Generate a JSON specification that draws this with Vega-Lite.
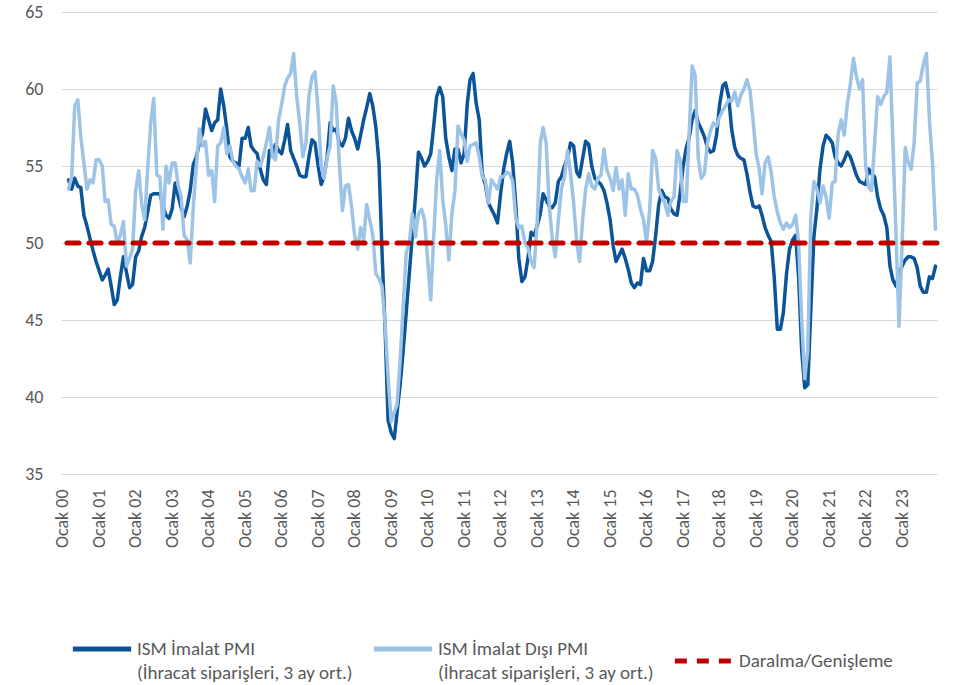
{
  "$schema": "https://vega.github.io/schema/vega-lite/v6.json",
  "width": 876,
  "height": 462,
  "autosize": {"type": "none"},
  "padding": {"left": 61, "top": 12, "right": 32, "bottom": 211},
  "background": "white",
  "config": {"view": {"stroke": null}, "font": "Carlito, Lato, sans-serif"},
  "layer": [
    {
      "data": {"values": [
        {"d":"2000-03-01","A":54.1,"B":53.5},{"d":"2000-04-01","A":53.5,"B":54.3},{"d":"2000-05-01","A":54.2,"B":58.9},{"d":"2000-06-01","A":53.7,"B":59.3},{"d":"2000-07-01","A":53.6,"B":56.9},{"d":"2000-08-01","A":51.8,"B":55.2},{"d":"2000-09-01","A":51.1,"B":53.5},{"d":"2000-10-01","A":50.3,"B":54.1},{"d":"2000-11-01","A":49.5,"B":53.9},{"d":"2000-12-01","A":48.8,"B":55.4},
        {"d":"2001-01-01","A":48.2,"B":55.4},{"d":"2001-02-01","A":47.6,"B":55.0},{"d":"2001-03-01","A":47.9,"B":52.7},{"d":"2001-04-01","A":48.3,"B":52.8},{"d":"2001-05-01","A":47.2,"B":51.2},{"d":"2001-06-01","A":46.0,"B":51.1},{"d":"2001-07-01","A":46.3,"B":50.0},{"d":"2001-08-01","A":47.8,"B":50.5},{"d":"2001-09-01","A":49.1,"B":51.4},{"d":"2001-10-01","A":48.1,"B":48.5},{"d":"2001-11-01","A":47.1,"B":49.0},{"d":"2001-12-01","A":47.3,"B":49.6},
        {"d":"2002-01-01","A":49.1,"B":53.4},{"d":"2002-02-01","A":49.5,"B":54.7},{"d":"2002-03-01","A":50.4,"B":52.6},{"d":"2002-04-01","A":51.0,"B":51.5},{"d":"2002-05-01","A":52.0,"B":54.8},{"d":"2002-06-01","A":53.1,"B":57.8},{"d":"2002-07-01","A":53.2,"B":59.4},{"d":"2002-08-01","A":53.2,"B":54.4},{"d":"2002-09-01","A":53.2,"B":54.3},{"d":"2002-10-01","A":52.4,"B":50.9},{"d":"2002-11-01","A":51.8,"B":55.0},{"d":"2002-12-01","A":51.6,"B":53.9},
        {"d":"2003-01-01","A":52.2,"B":55.2},{"d":"2003-02-01","A":53.9,"B":55.2},{"d":"2003-03-01","A":53.1,"B":53.8},{"d":"2003-04-01","A":52.3,"B":53.0},{"d":"2003-05-01","A":51.7,"B":50.5},{"d":"2003-06-01","A":52.4,"B":50.2},{"d":"2003-07-01","A":53.4,"B":48.7},{"d":"2003-08-01","A":55.1,"B":52.4},{"d":"2003-09-01","A":55.6,"B":55.0},{"d":"2003-10-01","A":56.5,"B":57.4},{"d":"2003-11-01","A":57.1,"B":56.3},{"d":"2003-12-01","A":58.7,"B":56.6},
        {"d":"2004-01-01","A":58.0,"B":54.4},{"d":"2004-02-01","A":57.3,"B":54.7},{"d":"2004-03-01","A":57.8,"B":52.7},{"d":"2004-04-01","A":58.0,"B":56.3},{"d":"2004-05-01","A":60.0,"B":56.5},{"d":"2004-06-01","A":58.9,"B":57.5},{"d":"2004-07-01","A":57.4,"B":55.8},{"d":"2004-08-01","A":55.6,"B":56.3},{"d":"2004-09-01","A":55.3,"B":55.3},{"d":"2004-10-01","A":55.2,"B":55.0},{"d":"2004-11-01","A":55.0,"B":54.8},{"d":"2004-12-01","A":56.8,"B":54.3},
        {"d":"2005-01-01","A":56.8,"B":53.9},{"d":"2005-02-01","A":57.5,"B":54.8},{"d":"2005-03-01","A":56.3,"B":53.4},{"d":"2005-04-01","A":56.0,"B":53.4},{"d":"2005-05-01","A":55.8,"B":55.3},{"d":"2005-06-01","A":54.8,"B":55.0},{"d":"2005-07-01","A":54.1,"B":55.6},{"d":"2005-08-01","A":53.8,"B":56.5},{"d":"2005-09-01","A":56.0,"B":57.5},{"d":"2005-10-01","A":55.8,"B":55.6},{"d":"2005-11-01","A":56.4,"B":55.4},{"d":"2005-12-01","A":56.0,"B":58.0},
        {"d":"2006-01-01","A":55.8,"B":59.0},{"d":"2006-02-01","A":56.7,"B":60.2},{"d":"2006-03-01","A":57.7,"B":60.7},{"d":"2006-04-01","A":56.0,"B":61.0},{"d":"2006-05-01","A":55.5,"B":62.3},{"d":"2006-06-01","A":55.0,"B":59.5},{"d":"2006-07-01","A":54.4,"B":57.8},{"d":"2006-08-01","A":54.3,"B":55.6},{"d":"2006-09-01","A":54.3,"B":56.5},{"d":"2006-10-01","A":55.6,"B":59.5},{"d":"2006-11-01","A":56.7,"B":60.8},{"d":"2006-12-01","A":56.5,"B":61.1},
        {"d":"2007-01-01","A":55.0,"B":58.6},{"d":"2007-02-01","A":53.8,"B":55.0},{"d":"2007-03-01","A":54.3,"B":54.2},{"d":"2007-04-01","A":55.6,"B":55.5},{"d":"2007-05-01","A":57.8,"B":56.3},{"d":"2007-06-01","A":57.3,"B":60.2},{"d":"2007-07-01","A":57.4,"B":59.1},{"d":"2007-08-01","A":56.5,"B":55.2},{"d":"2007-09-01","A":56.3,"B":52.1},{"d":"2007-10-01","A":56.8,"B":53.7},{"d":"2007-11-01","A":58.1,"B":53.8},{"d":"2007-12-01","A":57.3,"B":52.4},
        {"d":"2008-01-01","A":56.8,"B":50.5},{"d":"2008-02-01","A":56.1,"B":49.6},{"d":"2008-03-01","A":57.0,"B":51.0},{"d":"2008-04-01","A":58.0,"B":50.2},{"d":"2008-05-01","A":58.8,"B":52.5},{"d":"2008-06-01","A":59.7,"B":51.5},{"d":"2008-07-01","A":58.9,"B":50.5},{"d":"2008-08-01","A":57.5,"B":48.0},{"d":"2008-09-01","A":55.2,"B":47.7},{"d":"2008-10-01","A":49.5,"B":47.2},{"d":"2008-11-01","A":44.5,"B":44.8},{"d":"2008-12-01","A":38.5,"B":41.3},
        {"d":"2009-01-01","A":37.7,"B":38.4},{"d":"2009-02-01","A":37.3,"B":39.0},{"d":"2009-03-01","A":39.0,"B":39.5},{"d":"2009-04-01","A":40.8,"B":42.4},{"d":"2009-05-01","A":43.0,"B":45.9},{"d":"2009-06-01","A":45.5,"B":49.4},{"d":"2009-07-01","A":48.0,"B":50.0},{"d":"2009-08-01","A":50.5,"B":51.9},{"d":"2009-09-01","A":53.0,"B":50.4},{"d":"2009-10-01","A":55.9,"B":51.9},{"d":"2009-11-01","A":55.5,"B":52.2},{"d":"2009-12-01","A":55.0,"B":51.5},
        {"d":"2010-01-01","A":55.3,"B":48.9},{"d":"2010-02-01","A":55.8,"B":46.3},{"d":"2010-03-01","A":57.5,"B":50.2},{"d":"2010-04-01","A":59.5,"B":54.1},{"d":"2010-05-01","A":60.1,"B":56.0},{"d":"2010-06-01","A":59.5,"B":52.8},{"d":"2010-07-01","A":56.8,"B":51.2},{"d":"2010-08-01","A":55.6,"B":48.9},{"d":"2010-09-01","A":54.7,"B":51.9},{"d":"2010-10-01","A":56.1,"B":53.4},{"d":"2010-11-01","A":56.1,"B":57.6},{"d":"2010-12-01","A":55.2,"B":57.1},
        {"d":"2011-01-01","A":55.8,"B":56.7},{"d":"2011-02-01","A":59.0,"B":55.3},{"d":"2011-03-01","A":60.6,"B":56.3},{"d":"2011-04-01","A":61.0,"B":56.4},{"d":"2011-05-01","A":59.1,"B":56.5},{"d":"2011-06-01","A":58.0,"B":55.6},{"d":"2011-07-01","A":54.5,"B":54.3},{"d":"2011-08-01","A":53.8,"B":54.1},{"d":"2011-09-01","A":52.6,"B":52.6},{"d":"2011-10-01","A":52.2,"B":54.1},{"d":"2011-11-01","A":51.8,"B":53.8},{"d":"2011-12-01","A":51.3,"B":53.5},
        {"d":"2012-01-01","A":53.2,"B":54.3},{"d":"2012-02-01","A":54.8,"B":54.3},{"d":"2012-03-01","A":55.8,"B":54.6},{"d":"2012-04-01","A":56.6,"B":54.5},{"d":"2012-05-01","A":55.2,"B":54.0},{"d":"2012-06-01","A":52.5,"B":51.6},{"d":"2012-07-01","A":49.0,"B":51.0},{"d":"2012-08-01","A":47.5,"B":51.1},{"d":"2012-09-01","A":47.8,"B":50.0},{"d":"2012-10-01","A":49.0,"B":49.7},{"d":"2012-11-01","A":50.7,"B":48.8},{"d":"2012-12-01","A":50.5,"B":48.4},
        {"d":"2013-01-01","A":51.1,"B":51.3},{"d":"2013-02-01","A":51.9,"B":56.5},{"d":"2013-03-01","A":53.2,"B":57.5},{"d":"2013-04-01","A":52.8,"B":56.5},{"d":"2013-05-01","A":52.4,"B":52.5},{"d":"2013-06-01","A":52.3,"B":50.3},{"d":"2013-07-01","A":52.6,"B":49.1},{"d":"2013-08-01","A":54.0,"B":51.5},{"d":"2013-09-01","A":54.3,"B":53.5},{"d":"2013-10-01","A":55.0,"B":54.3},{"d":"2013-11-01","A":55.5,"B":56.0},{"d":"2013-12-01","A":56.5,"B":54.5},
        {"d":"2014-01-01","A":56.3,"B":52.6},{"d":"2014-02-01","A":54.6,"B":50.0},{"d":"2014-03-01","A":54.3,"B":48.8},{"d":"2014-04-01","A":55.5,"B":51.5},{"d":"2014-05-01","A":56.6,"B":53.5},{"d":"2014-06-01","A":56.4,"B":54.5},{"d":"2014-07-01","A":55.0,"B":53.7},{"d":"2014-08-01","A":54.2,"B":53.5},{"d":"2014-09-01","A":54.0,"B":54.2},{"d":"2014-10-01","A":53.8,"B":54.4},{"d":"2014-11-01","A":53.4,"B":56.1},{"d":"2014-12-01","A":52.6,"B":54.7},
        {"d":"2015-01-01","A":51.5,"B":54.2},{"d":"2015-02-01","A":49.8,"B":53.4},{"d":"2015-03-01","A":48.8,"B":54.9},{"d":"2015-04-01","A":49.2,"B":53.5},{"d":"2015-05-01","A":49.6,"B":54.1},{"d":"2015-06-01","A":49.0,"B":51.8},{"d":"2015-07-01","A":48.3,"B":54.5},{"d":"2015-08-01","A":47.4,"B":53.5},{"d":"2015-09-01","A":47.1,"B":53.5},{"d":"2015-10-01","A":47.4,"B":53.1},{"d":"2015-11-01","A":47.3,"B":52.2},{"d":"2015-12-01","A":49.0,"B":51.5},
        {"d":"2016-01-01","A":48.2,"B":50.0},{"d":"2016-02-01","A":48.2,"B":52.2},{"d":"2016-03-01","A":48.8,"B":56.0},{"d":"2016-04-01","A":50.5,"B":55.5},{"d":"2016-05-01","A":52.5,"B":53.5},{"d":"2016-06-01","A":53.4,"B":53.0},{"d":"2016-07-01","A":53.0,"B":52.6},{"d":"2016-08-01","A":52.9,"B":51.8},{"d":"2016-09-01","A":52.2,"B":52.7},{"d":"2016-10-01","A":51.9,"B":53.0},{"d":"2016-11-01","A":51.8,"B":56.0},{"d":"2016-12-01","A":53.2,"B":55.4},
        {"d":"2017-01-01","A":55.0,"B":52.7},{"d":"2017-02-01","A":56.2,"B":52.7},{"d":"2017-03-01","A":56.8,"B":57.0},{"d":"2017-04-01","A":58.0,"B":61.5},{"d":"2017-05-01","A":58.6,"B":60.9},{"d":"2017-06-01","A":57.8,"B":55.5},{"d":"2017-07-01","A":57.4,"B":54.2},{"d":"2017-08-01","A":56.9,"B":54.5},{"d":"2017-09-01","A":56.2,"B":56.5},{"d":"2017-10-01","A":55.9,"B":57.3},{"d":"2017-11-01","A":56.0,"B":57.8},{"d":"2017-12-01","A":57.0,"B":57.6},
        {"d":"2018-01-01","A":59.0,"B":58.2},{"d":"2018-02-01","A":60.2,"B":58.6},{"d":"2018-03-01","A":60.4,"B":58.9},{"d":"2018-04-01","A":59.5,"B":59.3},{"d":"2018-05-01","A":57.4,"B":59.2},{"d":"2018-06-01","A":56.2,"B":59.8},{"d":"2018-07-01","A":55.7,"B":58.9},{"d":"2018-08-01","A":55.5,"B":59.6},{"d":"2018-09-01","A":55.4,"B":60.0},{"d":"2018-10-01","A":54.5,"B":60.6},{"d":"2018-11-01","A":53.3,"B":59.9},{"d":"2018-12-01","A":52.4,"B":58.0},
        {"d":"2019-01-01","A":52.3,"B":55.8},{"d":"2019-02-01","A":52.4,"B":54.8},{"d":"2019-03-01","A":51.8,"B":53.2},{"d":"2019-04-01","A":51.0,"B":55.2},{"d":"2019-05-01","A":50.5,"B":55.6},{"d":"2019-06-01","A":50.1,"B":54.6},{"d":"2019-07-01","A":47.8,"B":53.0},{"d":"2019-08-01","A":44.4,"B":52.0},{"d":"2019-09-01","A":44.4,"B":51.3},{"d":"2019-10-01","A":45.5,"B":50.9},{"d":"2019-11-01","A":48.0,"B":51.3},{"d":"2019-12-01","A":49.6,"B":51.0},
        {"d":"2020-01-01","A":50.2,"B":51.2},{"d":"2020-02-01","A":50.5,"B":51.8},{"d":"2020-03-01","A":47.8,"B":50.0},{"d":"2020-04-01","A":43.0,"B":45.0},{"d":"2020-05-01","A":40.6,"B":41.2},{"d":"2020-06-01","A":40.8,"B":43.0},{"d":"2020-07-01","A":45.6,"B":51.7},{"d":"2020-08-01","A":50.4,"B":54.0},{"d":"2020-09-01","A":52.3,"B":53.5},{"d":"2020-10-01","A":54.8,"B":52.6},{"d":"2020-11-01","A":56.3,"B":53.7},{"d":"2020-12-01","A":57.0,"B":53.0},
        {"d":"2021-01-01","A":56.8,"B":51.6},{"d":"2021-02-01","A":56.5,"B":53.9},{"d":"2021-03-01","A":55.6,"B":54.0},{"d":"2021-04-01","A":55.2,"B":57.1},{"d":"2021-05-01","A":55.0,"B":58.0},{"d":"2021-06-01","A":55.4,"B":57.0},{"d":"2021-07-01","A":55.9,"B":59.0},{"d":"2021-08-01","A":55.6,"B":60.3},{"d":"2021-09-01","A":55.0,"B":62.0},{"d":"2021-10-01","A":54.4,"B":60.8},{"d":"2021-11-01","A":54.0,"B":60.0},{"d":"2021-12-01","A":53.9,"B":60.6},
        {"d":"2022-01-01","A":53.8,"B":55.0},{"d":"2022-02-01","A":54.8,"B":53.6},{"d":"2022-03-01","A":54.5,"B":53.4},{"d":"2022-04-01","A":54.3,"B":56.5},{"d":"2022-05-01","A":53.0,"B":59.5},{"d":"2022-06-01","A":52.2,"B":59.0},{"d":"2022-07-01","A":51.8,"B":59.5},{"d":"2022-08-01","A":51.0,"B":59.8},{"d":"2022-09-01","A":48.5,"B":62.1},{"d":"2022-10-01","A":47.6,"B":56.5},{"d":"2022-11-01","A":47.2,"B":50.5},{"d":"2022-12-01","A":48.0,"B":44.6},
        {"d":"2023-01-01","A":48.5,"B":50.0},{"d":"2023-02-01","A":48.9,"B":56.2},{"d":"2023-03-01","A":49.1,"B":55.3},{"d":"2023-04-01","A":49.1,"B":54.8},{"d":"2023-05-01","A":49.0,"B":56.5},{"d":"2023-06-01","A":48.4,"B":60.4},{"d":"2023-07-01","A":47.2,"B":60.5},{"d":"2023-08-01","A":46.8,"B":61.6},{"d":"2023-09-01","A":46.8,"B":62.3},{"d":"2023-10-01","A":47.8,"B":58.0},{"d":"2023-11-01","A":47.7,"B":55.2},{"d":"2023-12-01","A":48.5,"B":50.9}
      ]},
      "transform": [{"fold": ["A", "B"], "as": ["k", "v"]}],
      "mark": {"type": "line", "strokeWidth": 3.5, "strokeCap": "round", "strokeJoin": "round"},
      "encoding": {
        "x": {
          "field": "d", "type": "temporal",
          "scale": {"type": "utc", "domain": [{"year": 1999, "month": 12, "date": 16, "utc": true}, {"year": 2023, "month": 12, "date": 16, "utc": true}]},
          "axis": {
            "title": null, "domain": false, "ticks": false, "tickSize": 0, "grid": false,
            "tickCount": {"interval": "year", "step": 1},
            "labelExpr": "'Ocak ' + utcFormat(datum.value, '%y')",
            "labelAngle": 270, "labelPadding": 15, "labelOverlap": false, "labelFlush": false, "labelBound": false,
            "labelFont": "Carlito, Lato, sans-serif", "labelFontSize": 18, "labelColor": "#595959"
          }
        },
        "y": {
          "field": "v", "type": "quantitative",
          "scale": {"domain": [35, 65], "nice": false, "zero": false},
          "axis": {
            "title": null, "domain": false, "ticks": false, "tickSize": 0,
            "values": [35, 40, 45, 50, 55, 60, 65],
            "grid": true, "gridColor": "#D9D9D9", "gridWidth": 1.2,
            "labelPadding": 18, "labelFont": "Carlito, Lato, sans-serif", "labelFontSize": 18, "labelColor": "#595959"
          }
        },
        "color": {
          "field": "k", "type": "nominal",
          "scale": {"domain": ["A", "B", "R"], "range": ["#0C5498", "#9DC3E6", "#C00000"]},
          "legend": {
            "title": null, "orient": "none", "legendX": 9, "legendY": 605, "direction": "horizontal", "columns": 3,
            "gridAlign": "all", "columnPadding": 10, "padding": 0,
            "symbolType": "stroke", "symbolSize": 3400, "symbolStrokeWidth": 5,
            "labelFont": "Carlito, Lato, sans-serif", "labelFontSize": 19, "labelColor": "#595959", "labelOffset": 3, "labelLimit": 400,
            "labelExpr": "datum.value == 'A' ? ['ISM İmalat PMI', '(İhracat siparişleri, 3 ay ort.)'] : datum.value == 'B' ? ['ISM İmalat Dışı PMI', '(İhracat siparişleri, 3 ay ort.)'] : 'Daralma/Genişleme'",
            "encode": {"labels": {"update": {"lineHeight": {"value": 24}}}}
          }
        },
        "strokeDash": {
          "field": "k", "type": "nominal",
          "scale": {"domain": ["A", "B", "R"], "range": [[1, 0], [1, 0], [12, 10]]},
          "legend": {
            "title": null, "orient": "none", "legendX": 9, "legendY": 605, "direction": "horizontal", "columns": 3,
            "gridAlign": "all", "columnPadding": 10, "padding": 0,
            "symbolType": "stroke", "symbolSize": 3400, "symbolStrokeWidth": 5,
            "labelFont": "Carlito, Lato, sans-serif", "labelFontSize": 19, "labelColor": "#595959", "labelOffset": 3, "labelLimit": 400,
            "labelExpr": "datum.value == 'A' ? ['ISM İmalat PMI', '(İhracat siparişleri, 3 ay ort.)'] : datum.value == 'B' ? ['ISM İmalat Dışı PMI', '(İhracat siparişleri, 3 ay ort.)'] : 'Daralma/Genişleme'",
            "encode": {"labels": {"update": {"lineHeight": {"value": 24}}}}
          }
        }
      }
    },
    {
      "data": {"values": [{"k": "R", "v": 50}]},
      "mark": {"type": "rule", "strokeWidth": 5, "strokeCap": "round"},
      "encoding": {
        "y": {"field": "v", "type": "quantitative"},
        "color": {"field": "k", "type": "nominal"},
        "strokeDash": {"field": "k", "type": "nominal"}
      }
    }
  ]
}
